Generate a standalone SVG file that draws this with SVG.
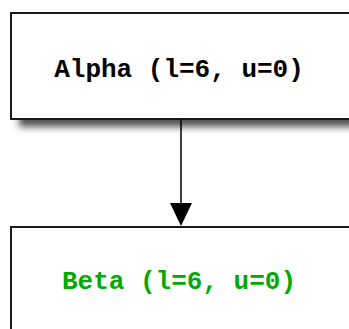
<svg xmlns="http://www.w3.org/2000/svg" width="349" height="329" viewBox="0 0 349 329">
<style>
.box{fill:#fff;stroke:#1a1a1a;stroke-width:2}
.lbl{font-family:"Liberation Mono","Courier New",monospace;font-weight:bold;font-size:26px;text-anchor:middle}
</style>
<defs>
<filter id="sh" x="-10%" y="-20%" width="130%" height="160%"><feGaussianBlur stdDeviation="3.5"/></filter>
<marker id="ah" viewBox="0 0 22 22" refX="11" refY="22" markerWidth="22" markerHeight="22" markerUnits="userSpaceOnUse" orient="auto-start-reverse">
<path d="M0,0 L22,0 L11,22 Z" fill="#000"/>
</marker>
</defs>
<rect width="349" height="329" fill="#fff"/>
<g id="alpha">
<rect x="19" y="21" width="340" height="106" fill="#555" filter="url(#sh)"/>
<rect class="box" x="11" y="13" width="340" height="106"/>
<text class="lbl" x="179" y="77" fill="#000">Alpha (l=6, u=0)</text>
</g>
<g id="beta">
<rect class="box" x="11" y="227" width="340" height="110"/>
<text class="lbl" x="179" y="289" fill="#00aa00">Beta (l=6, u=0)</text>
</g>
<g id="connectors">
<line x1="181" y1="119" x2="181" y2="203" stroke="#000" stroke-width="1.5"/>
<path d="M170,203 L192,203 L181,226 Z" fill="#000"/>
</g>
</svg>
